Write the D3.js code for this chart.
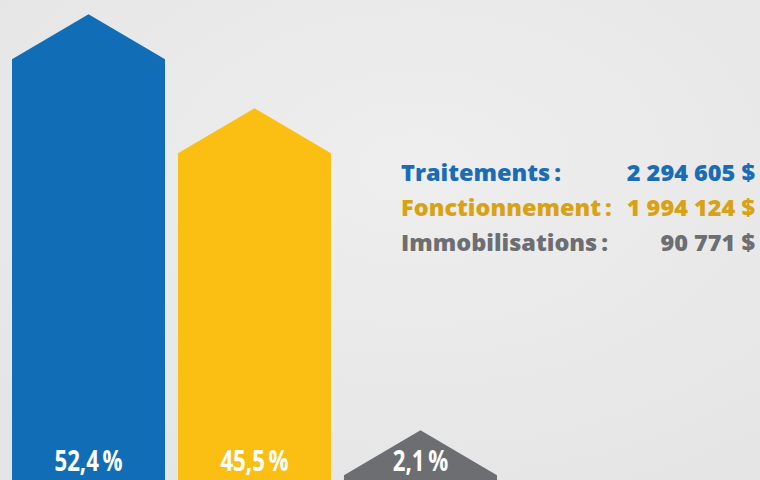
<!DOCTYPE html>
<html lang="fr">
<head>
    <meta charset="UTF-8">
    <title>Répartition des dépenses</title>
    <script src="https://d3js.org/d3.v7.min.js"></script>
    <style>
        html, body {
            margin: 0;
            padding: 0;
            background: #e9e9e9;
        }
        .pct {
            font-family: "Open Sans", sans-serif;
            font-weight: 700;
            fill: #fff;
        }
        .legend {
            font-family: "Open Sans", sans-serif;
            font-weight: 800;
        }
    </style>
</head>
<body>
    <div id="chart"></div>
    <script>
        // data
        const categories = ["Traitements", "Fonctionnement", "Immobilisations"];
        const percents = [52.4, 45.5, 2.1];
        const amounts = ["2 294 605 $", "1 994 124 $", "90 771 $"];
        const barColors = ["#116db5", "#fbbf13", "#6d6e71"];
        const textColors = ["#1a6db5", "#d9a214", "#6d6e71"];

        const width = 760, height = 480;

        const svg = d3.select("#chart")
            .append("svg")
            .attr("width", width)
            .attr("height", height);

        // fond légèrement texturé
        const defs = svg.append("defs");
        const grad = defs.append("radialGradient")
            .attr("id", "bg")
            .attr("cx", "55%").attr("cy", "35%").attr("r", "75%");
        grad.append("stop").attr("offset", "0%").attr("stop-color", "#eeeeee");
        grad.append("stop").attr("offset", "100%").attr("stop-color", "#e5e5e5");
        svg.append("rect")
            .attr("width", width)
            .attr("height", height)
            .attr("fill", "url(#bg)");

        const x = d3.scaleBand()
            .domain(categories)
            .range([12, 497])
            .paddingInner(0.078)
            .paddingOuter(0);

        // échelle à axe brisé : la petite valeur reste visible
        const y = d3.scaleLinear()
            .domain([0, 25, 60])
            .range([434, 388, -89.5]);

        const tip = 45; // hauteur de la pointe

        const arrow = (d, i) => {
            const x0 = x(categories[i]), x1 = x0 + x.bandwidth();
            const top = y(d);
            const xm = (x0 + x1) / 2;
            return `M${x0},${height + 5}L${x0},${top + tip}L${xm},${top}L${x1},${top + tip}L${x1},${height + 5}Z`;
        };

        svg.append("g")
            .selectAll("path")
            .data(percents)
            .join("path")
            .attr("d", arrow)
            .attr("fill", (d, i) => barColors[i]);

        // police condensée simulée par une échelle horizontale
        svg.append("g")
            .selectAll("text")
            .data(percents)
            .join("text")
            .attr("class", "pct")
            .attr("transform", (d, i) => `translate(${x(categories[i]) + x.bandwidth() / 2},471) scale(0.78,1)`)
            .attr("text-anchor", "middle")
            .style("font-size", "28.5px")
            .text(d => d.toFixed(1).replace(".", ",") + "\u2009%");

        // légende
        const legend = svg.append("g").attr("class", "legend");
        categories.forEach((c, i) => {
            const yy = 181 + i * 35;
            legend.append("text")
                .attr("x", 401)
                .attr("y", yy)
                .attr("fill", textColors[i])
                .style("font-size", "23.5px")
                .text(c + "\u2009:");
            legend.append("text")
                .attr("x", 755)
                .attr("y", yy)
                .attr("text-anchor", "end")
                .attr("fill", textColors[i])
                .style("font-size", "23.5px")
                .text(amounts[i]);
        });
    </script>
</body>
</html>
